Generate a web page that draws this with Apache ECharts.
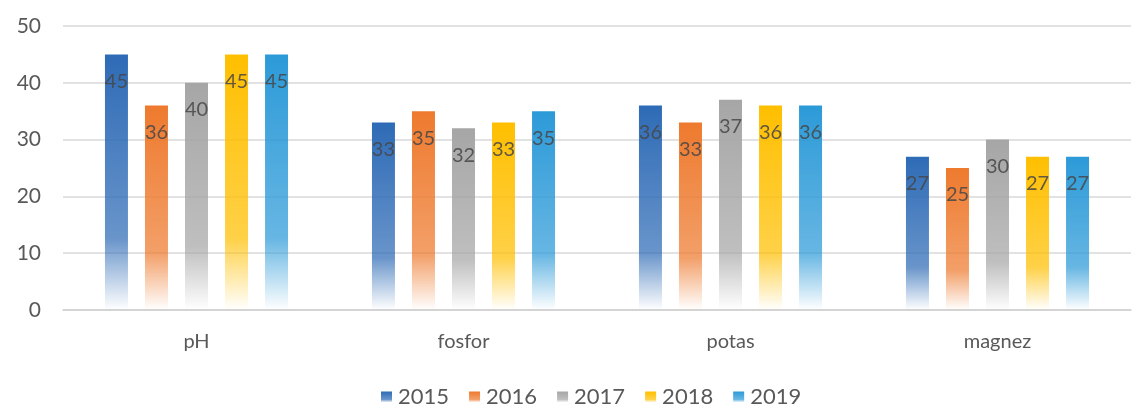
<!DOCTYPE html>
<html>
<head>
<meta charset="utf-8">
<script src="https://cdn.jsdelivr.net/npm/echarts@6/dist/echarts.min.js"></script>
<style>
  html, body { margin: 0; padding: 0; background: #fff; }
  #container { width: 1133px; height: 405px; }
</style>
</head>
<body>
<div id="container"></div>
<script>
var categories = ['pH', 'fosfor', 'potas', 'magnez'];
var years = ['2015', '2016', '2017', '2018', '2019'];
var v2015 = [45, 33, 36, 27];
var v2016 = [36, 35, 33, 25];
var v2017 = [40, 32, 37, 30];
var v2018 = [45, 33, 36, 27];
var v2019 = [45, 35, 36, 27];
var seriesValues = [v2015, v2016, v2017, v2018, v2019];
var colors = ['#2e6bb6', '#ee7a2e', '#a6a6a6', '#ffbf00', '#2c9ad8'];

function fade(c) {
    return new echarts.graphic.LinearGradient(0, 0, 0, 1, [
        { offset: 0, color: c },
        { offset: 0.72, color: echarts.color.modifyAlpha(c, 0.72) },
        { offset: 1, color: echarts.color.modifyAlpha(c, 0) }
    ]);
}

var myChart = echarts.init(document.getElementById('container'));
var series = [];
for (var i = 0; i < years.length; i++) {
    series.push({
        name: years[i],
        type: 'bar',
        data: seriesValues[i],
        barWidth: 23,
        barGap: '74%',
        itemStyle: { color: fade(colors[i]) },
        label: {
            show: true,
            position: 'insideTop',
            distance: 17,
            color: 'rgba(70,70,70,0.85)',
            fontSize: 20,
            fontFamily: 'Lato'
        }
    });
}
var option = {
    color: colors,
    textStyle: { fontFamily: 'Lato' },
    grid: { left: 63, right: 2, top: 26, bottom: 95 },
    legend: {
        top: 381,
        left: 376,
        itemWidth: 11,
        itemHeight: 11,
        itemGap: 20,
        icon: 'rect',
        textStyle: { color: '#595959', fontSize: 22, fontFamily: 'Lato', padding: [0, 0, 0, 1] },
        data: years
    },
    xAxis: {
        type: 'category',
        data: categories,
        axisTick: { show: false },
        axisLine: { lineStyle: { color: '#d0d0d0', width: 1.5 } },
        axisLabel: { color: '#595959', fontSize: 20, margin: 22 }
    },
    yAxis: {
        type: 'value',
        min: 0,
        max: 50,
        interval: 10,
        axisLine: { show: false },
        axisTick: { show: false },
        axisLabel: { color: '#595959', fontSize: 21, margin: 22 },
        splitLine: { lineStyle: { color: '#d9d9d9', width: 1.5 } }
    },
    series: series
};
myChart.setOption(option);
</script>
</body>
</html>
